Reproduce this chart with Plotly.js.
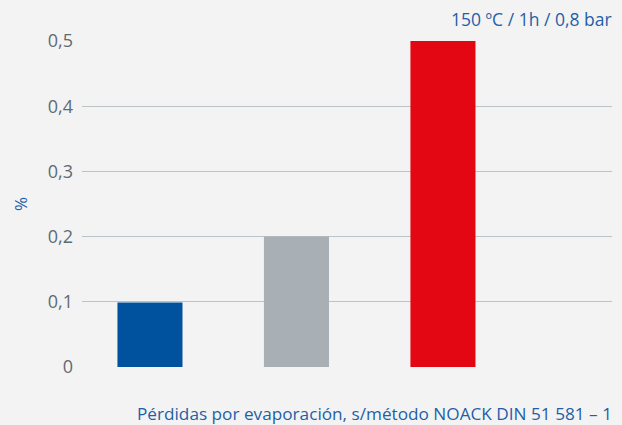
<!DOCTYPE html>
<html>
<head>
<meta charset="utf-8">
<script src="https://cdn.plot.ly/plotly-3.0.1.min.js"></script>
<style>html,body{margin:0;padding:0;background:#f3f3f3;}#chart{width:622px;height:425px;}</style>
</head>
<body>
<div id="chart"></div>
<script>
const categories = ["A", "B", "C"];
const values = [0.099, 0.2, 0.5];
const barColors = ["#00529f", "#a8b0b5", "#e30613"];
const tickValues = [0, 0.1, 0.2, 0.3, 0.4, 0.5];
const tickLabels = ["0", "0,1", "0,2", "0,3", "0,4", "0,5"];
const topNote = "150 ºC / 1h / 0,8 bar";
const bottomNote = "Pérdidas por evaporación, s/método NOACK DIN 51 581 – 1";
const yLabel = "%";

const xIdx = categories.map((c, i) => i);

const trace = {
  type: "bar",
  x: xIdx,
  y: values,
  width: 0.444,
  marker: { color: barColors, line: { width: 0 } },
  hoverinfo: "skip"
};

const layout = {
  width: 622,
  height: 425,
  margin: { l: 82, r: 10, t: 41, b: 58 },
  paper_bgcolor: "#f3f3f3",
  plot_bgcolor: "#f3f3f3",
  font: { family: "Open Sans, sans-serif", color: "#5f6b73" },
  showlegend: false,
  xaxis: {
    range: [-0.464, 3.154],
    showticklabels: false,
    showgrid: false,
    zeroline: false,
    showline: false,
    ticks: ""
  },
  yaxis: {
    range: [0, 0.5],
    tickvals: tickValues,
    ticktext: tickLabels,
    showgrid: true,
    gridcolor: "#bcc3c7",
    gridwidth: 1.2,
    zeroline: false,
    showline: false,
    ticks: "",
    ticklabelstandoff: 8,
    tickfont: { size: 18, color: "#5f6b73" }
  },
  annotations: [
    {
      text: topNote, xref: "paper", yref: "paper", x: 1, y: 1,
      xanchor: "right", yanchor: "bottom", yshift: 8, xshift: 2, showarrow: false,
      font: { size: 17.5, color: "#1f5fa8" }
    },
    {
      text: bottomNote, xref: "paper", yref: "paper", x: 1, y: 0,
      xanchor: "right", yanchor: "top", yshift: -33, xshift: 2, showarrow: false,
      font: { size: 17.2, color: "#1f5fa8" }
    },
    {
      text: yLabel, xref: "paper", yref: "paper", x: 0, y: 0.5,
      xanchor: "center", yanchor: "middle", xshift: -62, textangle: -90, showarrow: false,
      font: { size: 17, color: "#1f5fa8" }
    }
  ]
};

Plotly.newPlot("chart", [trace], layout, { displayModeBar: false, staticPlot: true });
</script>
</body>
</html>
